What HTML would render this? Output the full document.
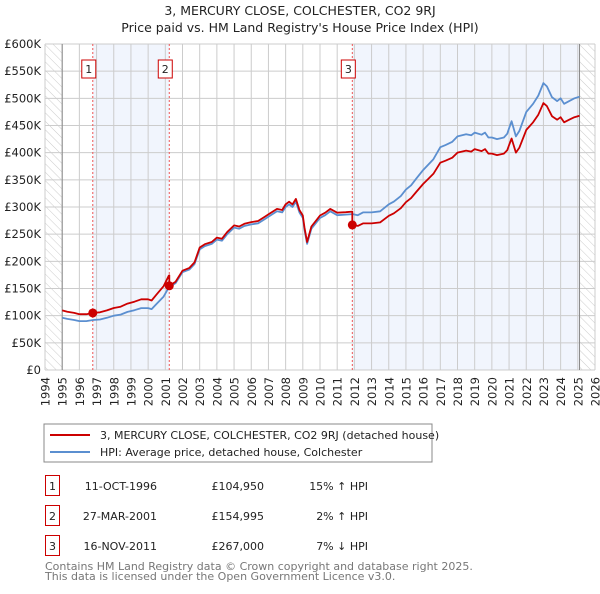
<!DOCTYPE html>
<html><head><meta charset="utf-8">
<style>
body{margin:0;background:#fff;width:600px;height:590px;overflow:hidden;font-family:"DejaVu Sans","Liberation Sans",sans-serif;}
svg text{font-family:"DejaVu Sans","Liberation Sans",sans-serif;}
</style></head>
<body>
<svg id="chart" width="600" height="590" viewBox="0 0 600 590" xmlns="http://www.w3.org/2000/svg">
<defs>
<pattern id="hatch" width="6" height="6" patternUnits="userSpaceOnUse" patternTransform="rotate(-45)">
<line x1="0" y1="0" x2="0" y2="6" stroke="#ccc" stroke-width="1"/>
</pattern>
</defs>
<text x="300" y="15" text-anchor="middle" font-size="12.5" fill="#222">3, MERCURY CLOSE, COLCHESTER, CO2 9RJ</text>
<text x="300" y="32" text-anchor="middle" font-size="12.5" fill="#222">Price paid vs. HM Land Registry's House Price Index (HPI)</text>
<g id="plot"></g>
<g>
<rect x="44" y="424" width="388" height="38" fill="#fff" stroke="#888" stroke-width="1"/>
<line x1="50" y1="435" x2="90" y2="435" stroke="#cc0000" stroke-width="2"/>
<text x="100" y="439" font-size="11" fill="#222">3, MERCURY CLOSE, COLCHESTER, CO2 9RJ (detached house)</text>
<line x1="50" y1="452" x2="90" y2="452" stroke="#5b8fd0" stroke-width="2"/>
<text x="100" y="456" font-size="11" fill="#222">HPI: Average price, detached house, Colchester</text>
</g>
<g font-size="11" fill="#222">
<rect x="45.5" y="475.5" width="14" height="20" fill="#fff" stroke="#cc0000"/>
<text x="52.5" y="490" text-anchor="middle">1</text>
<text x="157" y="490" text-anchor="end">11-OCT-1996</text>
<text x="264" y="490" text-anchor="end">£104,950</text>
<text x="368" y="490" text-anchor="end">15% ↑ HPI</text>
<rect x="45.5" y="505.5" width="14" height="20" fill="#fff" stroke="#cc0000"/>
<text x="52.5" y="520" text-anchor="middle">2</text>
<text x="157" y="520" text-anchor="end">27-MAR-2001</text>
<text x="264" y="520" text-anchor="end">£154,995</text>
<text x="368" y="520" text-anchor="end">2% ↑ HPI</text>
<rect x="45.5" y="535.5" width="14" height="20" fill="#fff" stroke="#cc0000"/>
<text x="52.5" y="550" text-anchor="middle">3</text>
<text x="157" y="550" text-anchor="end">16-NOV-2011</text>
<text x="264" y="550" text-anchor="end">£267,000</text>
<text x="368" y="550" text-anchor="end">7% ↓ HPI</text>
</g>
<text x="45" y="570" font-size="11" fill="#777">Contains HM Land Registry data © Crown copyright and database right 2025.</text>
<text x="45" y="580" font-size="11" fill="#777">This data is licensed under the Open Government Licence v3.0.</text>
</svg>
<script>
const hpiYears=[1995.0,1995.3,1995.7,1996.0,1996.4,1996.8,1997.2,1997.6,1998.0,1998.4,1998.8,1999.2,1999.6,2000.0,2000.2,2000.5,2000.9,2001.2,2001.6,2002.0,2002.4,2002.7,2003.0,2003.3,2003.7,2004.0,2004.3,2004.6,2005.0,2005.3,2005.6,2006.0,2006.4,2006.8,2007.0,2007.5,2007.8,2008.0,2008.2,2008.4,2008.6,2008.8,2009.0,2009.1,2009.25,2009.5,2009.8,2010.0,2010.3,2010.6,2011.0,2011.5,2011.9,2012.2,2012.5,2013.0,2013.5,2014.0,2014.3,2014.7,2015.0,2015.3,2015.6,2016.0,2016.3,2016.6,2017.0,2017.3,2017.7,2018.0,2018.5,2018.8,2019.0,2019.4,2019.6,2019.8,2020.0,2020.3,2020.7,2020.9,2021.0,2021.15,2021.4,2021.6,2022.0,2022.4,2022.7,2023.0,2023.2,2023.5,2023.8,2024.0,2024.2,2024.5,2024.8,2025.1];
const hpiValues=[96,94,92,90,90,92,93,96,100,102,107,110,114,114,112,122,135,152,160,180,185,195,222,228,232,240,238,250,262,260,265,268,270,278,282,292,290,300,305,300,310,290,280,258,232,260,272,280,285,292,285,286,287,285,290,290,292,305,310,320,332,340,352,368,378,388,410,414,420,430,434,432,437,433,437,428,428,425,428,435,445,458,430,440,475,490,505,528,522,502,495,500,490,495,500,503];
const saleYears=[1996.78,2001.23,2011.88];
const salePrices=[104950,154995,267000];
const saleLabels=["1","2","3"];
const yTicks=[0,50,100,150,200,250,300,350,400,450,500,550,600];
const xTicks=[1994,1995,1996,1997,1998,1999,2000,2001,2002,2003,2004,2005,2006,2007,2008,2009,2010,2011,2012,2013,2014,2015,2016,2017,2018,2019,2020,2021,2022,2023,2024,2025,2026];

const X0=45,X1=595,Y0=370,Y1=44;
function xs(y){return X0+(y-1994)/(2026-1994)*(X1-X0);}
function ys(k){return Y0-k/600*(Y0-Y1);}
function hpiAt(t){
  if(t<=hpiYears[0])return hpiValues[0];
  for(let i=1;i<hpiYears.length;i++){if(t<=hpiYears[i]){const f=(t-hpiYears[i-1])/(hpiYears[i]-hpiYears[i-1]);return hpiValues[i-1]+f*(hpiValues[i]-hpiValues[i-1]);}}
  return hpiValues[hpiValues.length-1];
}
const NS="http://www.w3.org/2000/svg";
const g=document.getElementById('plot');
function mk(tag,attrs,parent){const e=document.createElementNS(NS,tag);for(const k in attrs)e.setAttribute(k,attrs[k]);(parent||g).appendChild(e);return e;}

let bg=mk('rect',{x:X0,y:Y1,width:X1-X0,height:Y0-Y1,fill:'#fff'});


let s1=mk('rect',{x:xs(saleYears[0]),y:Y1,width:xs(saleYears[1])-xs(saleYears[0]),height:Y0-Y1,fill:'#eef3fc',opacity:0.8});


let s2=mk('rect',{x:xs(saleYears[2]),y:Y1,width:xs(2025.1)-xs(saleYears[2]),height:Y0-Y1,fill:'#eef3fc',opacity:0.8});


let h1=mk('rect',{x:X0,y:Y1,width:xs(1995)-X0,height:Y0-Y1,fill:'url(#hatch)'});


let h2=mk('rect',{x:xs(2025.1),y:Y1,width:X1-xs(2025.1),height:Y0-Y1,fill:'url(#hatch)'});


yTicks.forEach(v=>{
  const l=mk('line',{x1:X0,x2:X1,y1:ys(v),y2:ys(v),stroke:'#cccccc','stroke-width':1});
  
  
  const t=mk('text',{x:X0-4,y:ys(v)+4,'text-anchor':'end','font-size':11.5,fill:'#222'});
  t.textContent=v===0?'£0':'£'+v+'K';
  
  
});
xTicks.forEach(v=>{
  const l=mk('line',{x1:xs(v),x2:xs(v),y1:Y1,y2:Y0,stroke:'#cccccc','stroke-width':1});
  
  
  const t=mk('text',{x:0,y:0,'text-anchor':'end','font-size':11.5,fill:'#222',transform:'translate('+(xs(v)+4.5)+',377) rotate(-90)'});
  t.textContent=String(v);
  
  
});
let ax=mk('line',{x1:xs(1995),x2:xs(1995),y1:Y1,y2:Y0,stroke:'#888','stroke-width':1});


let ax2=mk('line',{x1:xs(2025.1),x2:xs(2025.1),y1:Y1,y2:Y0,stroke:'#888','stroke-width':1});



saleYears.forEach((sy,i)=>{
  const l=mk('line',{x1:xs(sy),x2:xs(sy),y1:Y1,y2:Y0,stroke:'#ee5555','stroke-width':1,'stroke-dasharray':'2,2'});
  
  
  const b=mk('rect',{x:xs(sy)-11,y:60,width:14,height:18,fill:'#fff',stroke:'#cc0000','stroke-width':1});
  
  
  const t=mk('text',{x:xs(sy)-4,y:73,'text-anchor':'middle','font-size':11,fill:'#222'});
  t.textContent=saleLabels[i];
  
  
});

let hp='';
hpiYears.forEach((y,i)=>{hp+=(i?'L':'M')+xs(y).toFixed(1)+','+ys(hpiValues[i]).toFixed(1);});
let hl=mk('path',{d:hp,fill:'none',stroke:'#5b8fd0','stroke-width':1.8,'stroke-linejoin':'round'});



let pts=[];
const times=hpiYears.slice();
saleYears.forEach(s=>{times.push(s);times.push(s+0.001);});
times.sort((a,b)=>a-b);
times.forEach(t=>{
  let idx=0;
  for(let i=0;i<saleYears.length;i++){if(t>=saleYears[i]+0.0005)idx=i;}
  const r=salePrices[idx]/1000/hpiAt(saleYears[idx]);
  pts.push([t,hpiAt(t)*r]);
});
let pp='';
pts.forEach((p,i)=>{pp+=(i?'L':'M')+xs(p[0]).toFixed(1)+','+ys(p[1]).toFixed(1);});
let pl=mk('path',{d:pp,fill:'none',stroke:'#cc0000','stroke-width':1.8,'stroke-linejoin':'round'});



saleYears.forEach((sy,i)=>{
  const c=mk('circle',{cx:xs(sy),cy:ys(salePrices[i]/1000),r:4.5,fill:'#cc0000'});
  
  
});
</script>
</body></html>
